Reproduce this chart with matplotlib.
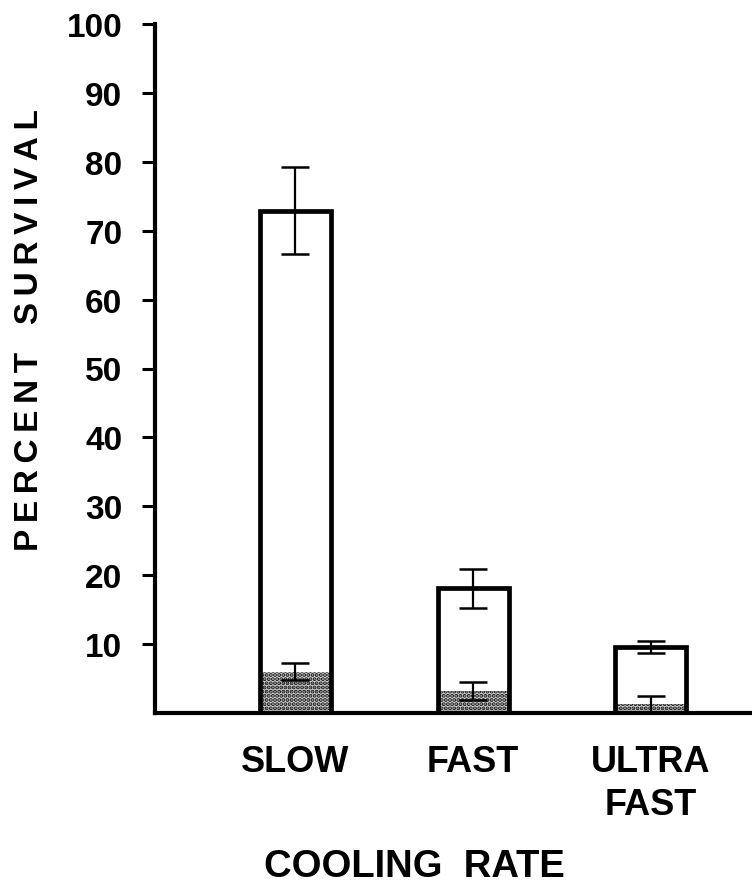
import matplotlib
matplotlib.use("Agg")
from matplotlib import pyplot as plt

# valores
categorias = ['SLOW', 'FAST', 'ULTRA\nFAST']
supervivencia = [72.9, 18.1, 9.6]
error_sup = [6.3, 2.8, 0.9]
punteado = [6.0, 3.2, 1.3]
error_punt = [1.2, 1.3, 1.2]
yticks = [10, 20, 30, 40, 50, 60, 70, 80, 90, 100]

plt.rcParams['font.family'] = ['Liberation Sans', 'DejaVu Sans']
plt.rcParams['font.weight'] = 'bold'
plt.rcParams['hatch.linewidth'] = 2.0

fig = plt.figure(figsize=(7.52, 8.95), dpi=100)
ax = fig.add_axes([155 / 752, 1 - 714 / 895, 1 - 155 / 752, (714 - 25) / 895])

x = list(range(len(categorias)))
ancho = 0.40

# parte punteada (abajo)
ax.bar(x, punteado, width=ancho, color='#d0d0d0', edgecolor='#111111',
       hatch='....', linewidth=0, zorder=2)
ax.errorbar(x, punteado, yerr=error_punt, fmt='none', ecolor='black',
            elinewidth=1.6, capsize=10, capthick=1.8, zorder=3)

# barra total (contorno)
ax.bar(x, supervivencia, width=ancho, facecolor='none', edgecolor='black',
       linewidth=3.4, zorder=4)
ax.errorbar(x, supervivencia, yerr=error_sup, fmt='none', ecolor='black',
            elinewidth=1.6, capsize=10, capthick=1.8, zorder=5)

ax.set_xlim(-0.79, 2.57)
ax.set_ylim(0, 100)
ax.set_yticks(yticks)
ax.set_yticklabels([str(v) for v in yticks], fontsize=24, fontweight='bold')
ax.set_xticks(x)
ax.set_xticklabels(categorias, fontsize=26, fontweight='bold', linespacing=1.3)
ax.tick_params(axis='y', direction='out', length=9.5, width=2.2, pad=14)
ax.tick_params(axis='x', length=0, pad=22)

ax.spines['top'].set_visible(False)
ax.spines['right'].set_visible(False)
ax.spines['left'].set_linewidth(3.0)
ax.spines['bottom'].set_linewidth(3.0)

# letras algo separadas como en el original
ylab = '\u2009'.join('PERCENT') + '   ' + '\u2009'.join('SURVIVAL')
fig.text(30 / 752, 1 - 330 / 895, ylab, rotation=90,
         ha='center', va='center', fontsize=24, fontweight='bold')
fig.text(414 / 752, 1 - 867 / 895, 'COOLING  RATE', ha='center', va='center',
         fontsize=27.5, fontweight='bold')

plt.savefig('out.png', dpi=100)
